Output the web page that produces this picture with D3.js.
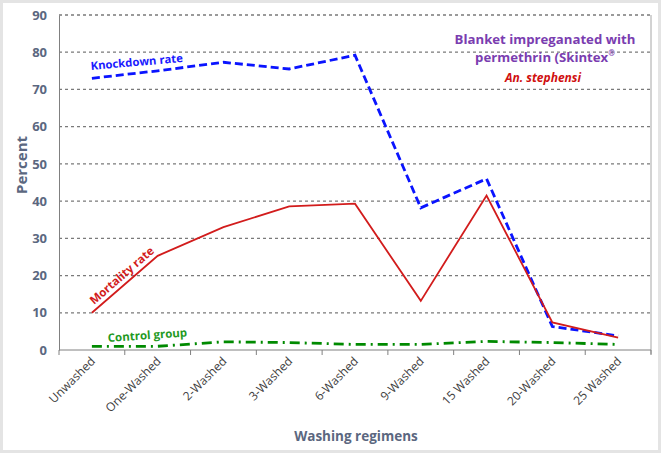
<!DOCTYPE html>
<html><head><meta charset="utf-8">
<script src="https://cdn.jsdelivr.net/npm/d3@7"></script>
<style>
html,body{margin:0;padding:0;background:#e4e4e4;}
svg{display:block;}
</style></head>
<body>
<script>
const categories = ["Unwashed","One-Washed","2-Washed","3-Washed","6-Washed","9-Washed","15 Washed","20-Washed","25 Washed"];
const knockdown = [73, 75, 77.3, 75.5, 79.2, 38.2, 46, 6.3, 3.8];
const mortality = [10, 25.3, 33, 38.6, 39.3, 13.2, 41.5, 7.4, 3.3];
const control = [1, 1, 2.2, 2, 1.5, 1.5, 2.3, 2, 1.5];
const yTicks = [0,10,20,30,40,50,60,70,80,90];

const W = 661, H = 453;
const svg = d3.select("body").append("svg").attr("width", W).attr("height", H);
svg.append("rect").attr("x",3).attr("y",3).attr("width",655).attr("height",447).attr("fill","#fff");

const m = {l:59, r:651, t:15, b:350};
const x = d3.scaleBand().domain(categories).range([m.l, m.r]);
const y = d3.scaleLinear().domain([0,90]).range([m.b, m.t]);
const font = "'Open Sans', 'DejaVu Sans', sans-serif";

// gridlines
svg.append("g").selectAll("line").data(yTicks.filter(d=>d>0)).join("line")
  .attr("x1", m.l).attr("x2", m.r).attr("y1", d=>y(d)).attr("y2", d=>y(d))
  .attr("stroke","#7a7a7a").attr("stroke-width",1.3).attr("stroke-dasharray","3,3");

// right border
svg.append("line").attr("x1",m.r).attr("x2",m.r).attr("y1",m.t).attr("y2",m.b+4).attr("stroke","#a6a6a6").attr("stroke-width",1);

// y axis
const ya = svg.append("g").attr("transform",`translate(${m.l},0)`)
  .call(d3.axisLeft(y).tickValues(yTicks).tickSize(0).tickPadding(12));
ya.select(".domain").attr("stroke","#808080");
ya.selectAll("text").attr("font-family",font).attr("font-weight","bold").attr("font-size","13px").attr("fill","#5b6780");

// x axis
const xa = svg.append("g").attr("transform",`translate(0,${m.b})`)
  .call(d3.axisBottom(x).tickSize(0).tickFormat(""));
xa.select(".domain").attr("stroke","#808080").attr("d",`M${m.l},0H${m.r}`);
svg.append("g").selectAll("line").data(d3.range(categories.length+1)).join("line")
  .attr("x1", i=>m.l + i*x.step()).attr("x2", i=>m.l + i*x.step())
  .attr("y1", m.b).attr("y2", m.b+5).attr("stroke","#808080");
svg.append("g").selectAll("text").data(categories).join("text")
  .attr("transform", d=>`translate(${x(d)+x.bandwidth()/2+4},${m.b+12}) rotate(-45)`)
  .attr("text-anchor","end").attr("font-family",font).attr("font-size","12px").attr("fill","#404040")
  .text(d=>d);

// axis titles
svg.append("text").attr("transform","translate(27,165) rotate(-90)").attr("text-anchor","middle")
  .attr("font-family",font).attr("font-weight","bold").attr("font-size","15px").attr("fill","#5b6780").text("Percent");
svg.append("text").attr("x",356).attr("y",441).attr("text-anchor","middle")
  .attr("font-family",font).attr("font-weight","bold").attr("font-size","13.5px").attr("fill","#5b6780").text("Washing regimens");

const cx = d => x(d)+x.bandwidth()/2;
const line = vals => d3.line().x((v,i)=>cx(categories[i])).y(v=>y(v))(vals);

svg.append("path").attr("d", line(control)).attr("fill","none").attr("stroke","#008a00")
  .attr("stroke-width",2.8).attr("stroke-dasharray","10,5,2,5");
svg.append("path").attr("d", line(knockdown)).attr("fill","none").attr("stroke","#0a14ff")
  .attr("stroke-width",2.8).attr("stroke-dasharray","8,4");
svg.append("path").attr("d", line(mortality)).attr("fill","none").attr("stroke","#d21c1c")
  .attr("stroke-width",1.8);

// annotations
svg.append("text").attr("transform","translate(91,70) rotate(-5)")
  .attr("font-family",font).attr("font-weight","bold").attr("font-size","11.3px").attr("fill","#1a1aff").text("Knockdown rate");
svg.append("text").attr("transform","translate(94,305) rotate(-41)")
  .attr("font-family",font).attr("font-weight","bold").attr("font-size","11.5px").attr("fill","#d21c1c").text("Mortality rate");
svg.append("text").attr("transform","translate(108,342) rotate(-4)")
  .attr("font-family",font).attr("font-weight","bold").attr("font-size","11.5px").attr("fill","#1f9a1f").text("Control group");

const tg = svg.append("g").attr("font-family",font).attr("text-anchor","middle");
tg.append("text").attr("x",545).attr("y",44).attr("font-weight","bold").attr("font-size","13.2px").attr("fill","#7a3db0").text("Blanket impreganated with");
const t2 = tg.append("text").attr("x",545).attr("y",62).attr("font-weight","bold").attr("font-size","13.2px").attr("fill","#7a3db0");
t2.append("tspan").text("permethrin (Skintex");
t2.append("tspan").attr("font-size","8px").attr("dy","-6").text("®");
tg.append("text").attr("x",543).attr("y",82).attr("font-weight","bold").attr("font-style","italic").attr("font-size","12px").attr("fill","#d01010").text("An. stephensi");
</script>
</body></html>
